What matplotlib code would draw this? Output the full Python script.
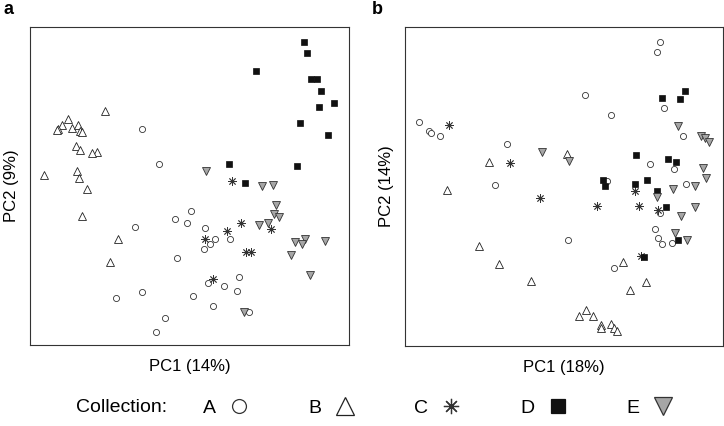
import matplotlib
matplotlib.use('Agg')
import matplotlib.pyplot as plt
from matplotlib.lines import Line2D

plt.rcParams['font.family'] = ['Liberation Sans', 'DejaVu Sans']

# --- scores (PC1, PC2) --- #

# panel a
a_A_pc1 = [142, 158.7, 191, 175, 187.3, 135, 205, 215.3, 230, 210, 204, 177.3, 238.7, 208,
           223.7, 237.3, 141.7, 116.3, 193.3, 213, 249.3, 165.3, 155.7]
a_A_pc2 = [129, 163.7, 211, 219.3, 223, 226.7, 228.3, 238.7, 239.3, 244.3, 249.3, 258.3, 277.3,
           283.3, 286.3, 291, 292.3, 298.3, 295.7, 306, 312.3, 317.7, 331.7]
a_B_pc1 = [105, 67.7, 62, 58.3, 56.7, 72.3, 78.3, 80, 81.7, 76, 80, 97.3, 92.3, 44.3, 76.7,
           79, 86.7, 82, 118, 110]
a_B_pc2 = [110.7, 119.3, 125, 129.3, 130, 127.7, 125, 131, 131.7, 146, 150, 151.7, 153.3, 175,
           170.7, 178.3, 189.3, 216, 238.7, 262.3]
a_C_pc1 = [231.7, 240.7, 226.7, 205, 271, 246, 251, 213.3]
a_C_pc2 = [180.7, 222.7, 231, 239.3, 229.3, 252.3, 252.3, 279.3]
a_D_pc1 = [304.3, 307.3, 256.3, 311, 316.7, 321, 334.3, 319.3, 299.7, 328, 229, 297, 245]
a_D_pc2 = [41.7, 53, 71, 78.7, 79.3, 91, 103.3, 106.7, 122.7, 134.7, 164.3, 166.3, 182.7]
a_E_pc1 = [206.3, 262, 273.3, 276, 274.3, 278.7, 258.7, 267.7, 295, 304.7, 302, 325, 291.3,
           310.3, 243.7]
a_E_pc2 = [171.3, 185.7, 185, 205, 214, 217.3, 225, 222.7, 241.7, 239, 243.7, 241, 255,
           275.3, 312.3]

# panel b
b_A_pc1 = [659.7, 657.3, 584.7, 664, 611.3, 419, 429, 430.7, 440, 683, 507, 650, 674, 494.7,
           686, 606.7, 568, 655.3, 658, 662.3, 672, 660, 614.3]
b_A_pc2 = [41.7, 52.3, 95, 108, 115.3, 121.5, 130.7, 132.7, 136, 136.3, 144.3, 164.3, 168.5,
           184.5, 183.5, 180.7, 240, 229, 237.7, 244, 242.5, 213, 268.3]
b_B_pc1 = [567.3, 489.3, 447, 479, 499, 531.3, 623, 645.7, 630, 586, 579, 593, 601, 601, 611,
           614.3, 617]
b_B_pc2 = [154, 161.7, 190, 245.7, 264, 280.7, 261.7, 281.7, 290.3, 310, 316.3, 316.3, 325,
           327.5, 323.5, 327.5, 330.7]
b_C_pc1 = [449, 510, 540, 596.7, 639.3, 635.3, 658, 640.7]
b_C_pc2 = [125.3, 163.3, 197.7, 205.5, 205.5, 190.5, 210, 256.3]
b_D_pc1 = [661.7, 680, 685, 636, 668.2, 676.3, 603, 605.3, 635.3, 647.5, 657.2, 666, 678.3,
           643.7]
b_D_pc2 = [97.7, 99, 91, 155.2, 159.2, 161.5, 179.5, 185.7, 183.7, 179.5, 190.7, 207.3, 240,
           256.7]
b_E_pc1 = [677.7, 701, 705, 708.7, 542, 568.7, 703.5, 706.5, 673.3, 695.2, 657, 681, 694.7,
           675.3, 687]
b_E_pc2 = [126.3, 136.3, 138, 142.3, 152, 160.7, 168, 177.5, 189.2, 185.7, 196.5, 215.5, 207,
           233.3, 239.5]

collections = ['A', 'B', 'C', 'D', 'E']
panel_a = [(a_A_pc1, a_A_pc2), (a_B_pc1, a_B_pc2), (a_C_pc1, a_C_pc2),
           (a_D_pc1, a_D_pc2), (a_E_pc1, a_E_pc2)]
panel_b = [(b_A_pc1, b_A_pc2), (b_B_pc1, b_B_pc2), (b_C_pc1, b_C_pc2),
           (b_D_pc1, b_D_pc2), (b_E_pc1, b_E_pc2)]

# marker style per collection
styles = {
    'A': dict(marker='o', mfc='white', mec='#333333', ms=4.4, mew=0.6),
    'B': dict(marker='^', mfc='white', mec='#222222', ms=5.2, mew=0.6),
    'C': dict(marker=(8, 2, 0), mfc='none', mec='#333333', ms=6, mew=0.6),
    'D': dict(marker='s', mfc='#111111', mec='#111111', ms=3.8, mew=0.5),
    'E': dict(marker='v', mfc='#a6a6a6', mec='#333333', ms=5.4, mew=0.6),
}
legend_ms = {'A': 10, 'B': 12.5, 'C': 11, 'D': 10.5, 'E': 12.5}

W, H = 724, 426
fig = plt.figure(figsize=(W / 100, H / 100), dpi=100)

def make_panel(rect, data, xlim, ylim, xlabel, ylabel, tag, tagx):
    ax = fig.add_axes(rect)
    for name, (x, y) in zip(collections, data):
        ax.plot(x, y, ls='none', **styles[name])
    ax.set_xlim(*xlim)
    ax.set_ylim(*ylim)  # inverted
    ax.set_xticks([])
    ax.set_yticks([])
    for sp in ax.spines.values():
        sp.set_color('#333333')
        sp.set_linewidth(0.8)
    ax.set_xlabel(xlabel, fontsize=12, labelpad=10)
    ax.set_ylabel(ylabel, fontsize=12, labelpad=8)
    fig.text(tagx / W, 1 - 9 / H, tag, fontsize=13, fontweight='bold', va='center')
    return ax

make_panel([30 / W, 1 - 345 / H, 319 / W, 318 / H], panel_a, (30, 349), (345, 27),
           'PC1 (14%)', 'PC2 (9%)', 'a', 3)
make_panel([405 / W, 1 - 346 / H, 318 / W, 319 / H], panel_b, (405, 723), (346, 27),
           'PC1 (18%)', 'PC2 (14%)', 'b', 372)

# legend row
fig.text(76 / W, 1 - 408 / H, 'Collection:', fontsize=14, va='center')
handles = [Line2D([], [], ls='none', **dict(styles[n], ms=legend_ms[n], mew=0.9))
           for n in collections]
fig.legend(handles, collections, loc='center left', bbox_to_anchor=(203 / W, 1 - 408 / H),
           ncol=5, frameon=False, markerfirst=False, fontsize=14, borderpad=0,
           borderaxespad=0, handlelength=1.0, handletextpad=0.7, columnspacing=3.05)

fig.savefig('out.png', dpi=100)
